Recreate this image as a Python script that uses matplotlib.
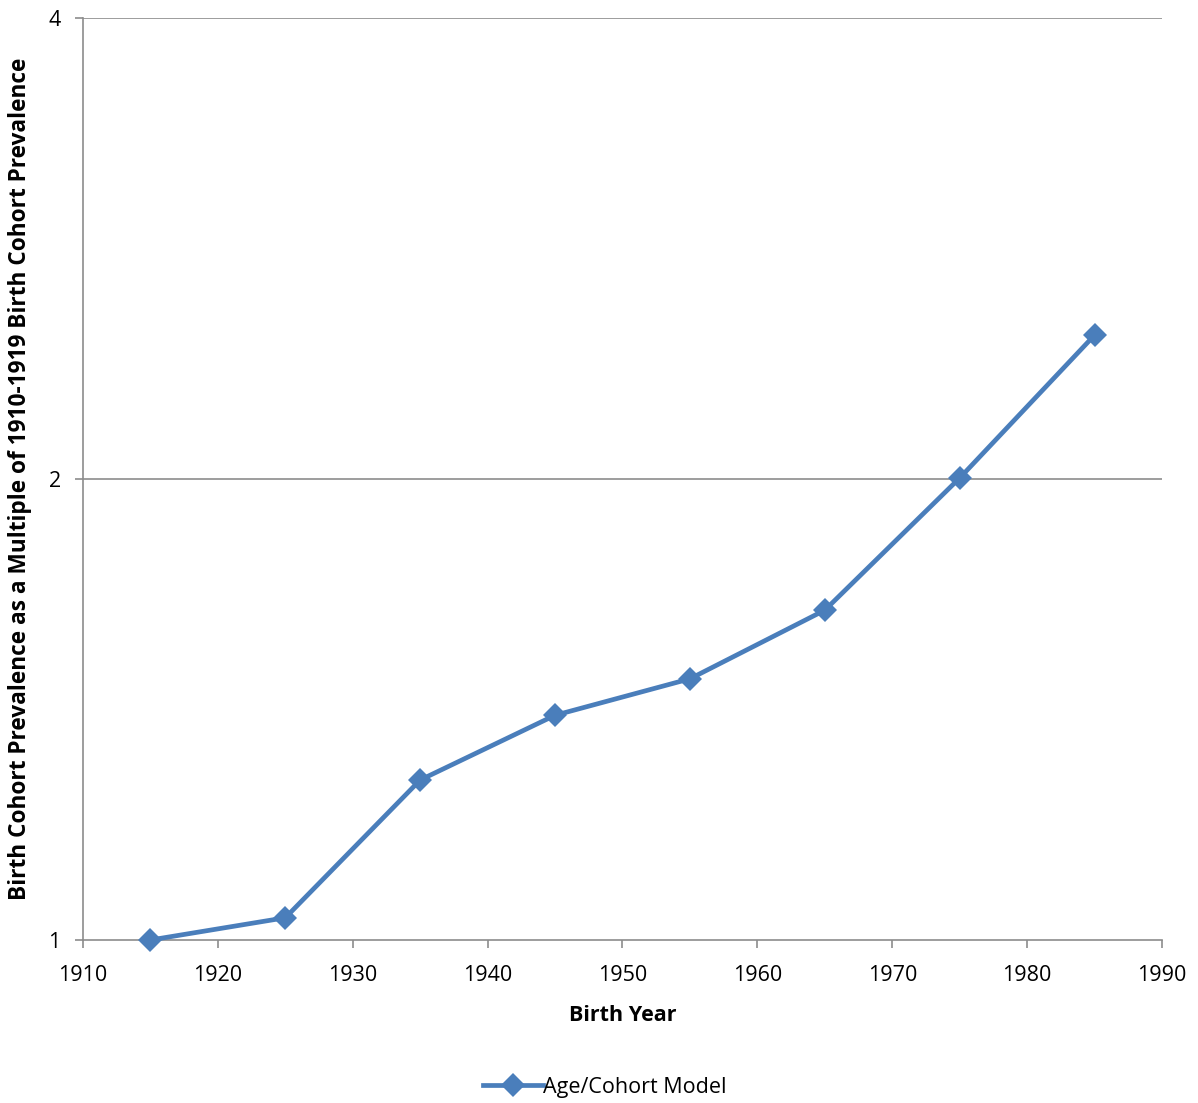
import matplotlib
matplotlib.use("Agg")
import matplotlib.pyplot as plt
from matplotlib.ticker import FixedLocator, FixedFormatter, NullLocator

plt.rcParams['font.family'] = ['Open Sans', 'DejaVu Sans']

birth_years = [1915, 1925, 1935, 1945, 1955, 1965, 1975, 1985]
prevalence = [1.0, 1.034, 1.272, 1.402, 1.481, 1.642, 2.003, 2.483]
x_ticks = [1910, 1920, 1930, 1940, 1950, 1960, 1970, 1980, 1990]
y_ticks = [1, 2, 4]
series_label = "Age/Cohort Model"

fig = plt.figure(figsize=(11.98, 11.03), dpi=100)
ax = fig.add_axes([83/1198, 1-940/1103, (1162-83)/1198, (940-18)/1103])

color = '#4A7EBB'
ax.plot(birth_years, prevalence, color=color, lw=3.4, marker='D', ms=12,
        markeredgewidth=0, label=series_label, solid_joinstyle='round',
        clip_on=False, zorder=5)

ax.set_yscale('log', base=2)
ax.set_ylim(1, 4)
ax.set_xlim(1910, 1990)
ax.yaxis.set_major_locator(FixedLocator(y_ticks))
ax.yaxis.set_major_formatter(FixedFormatter([str(v) for v in y_ticks]))
ax.yaxis.set_minor_locator(NullLocator())
ax.set_xticks(x_ticks)
ax.set_xticklabels([str(v) for v in x_ticks])

for y in y_ticks[1:]:
    ax.axhline(y, color='#8C8C8C', lw=1.2, zorder=0)

for s in ['top', 'right']:
    ax.spines[s].set_visible(False)
for s in ['left', 'bottom']:
    ax.spines[s].set_color('#8C8C8C')
    ax.spines[s].set_linewidth(1.2)

ax.tick_params(axis='both', colors='#8C8C8C', labelcolor='black', labelsize=15.5,
               length=6, width=1.2, direction='out')
ax.tick_params(axis='y', pad=10)
ax.tick_params(axis='x', pad=12)

ax.set_xlabel("Birth Year", fontsize=15.5, fontweight='bold', labelpad=14)
ax.set_ylabel("Birth Cohort Prevalence as a Multiple of 1910-1919 Birth Cohort Prevalence",
              fontsize=16.3, fontweight='bold', labelpad=12)

fig.legend(loc='center', bbox_to_anchor=(0.505, 1-1087/1103), frameon=False,
           fontsize=15.5, handlelength=2.8, handletextpad=0.0)

fig.savefig("out.png", dpi=100)
